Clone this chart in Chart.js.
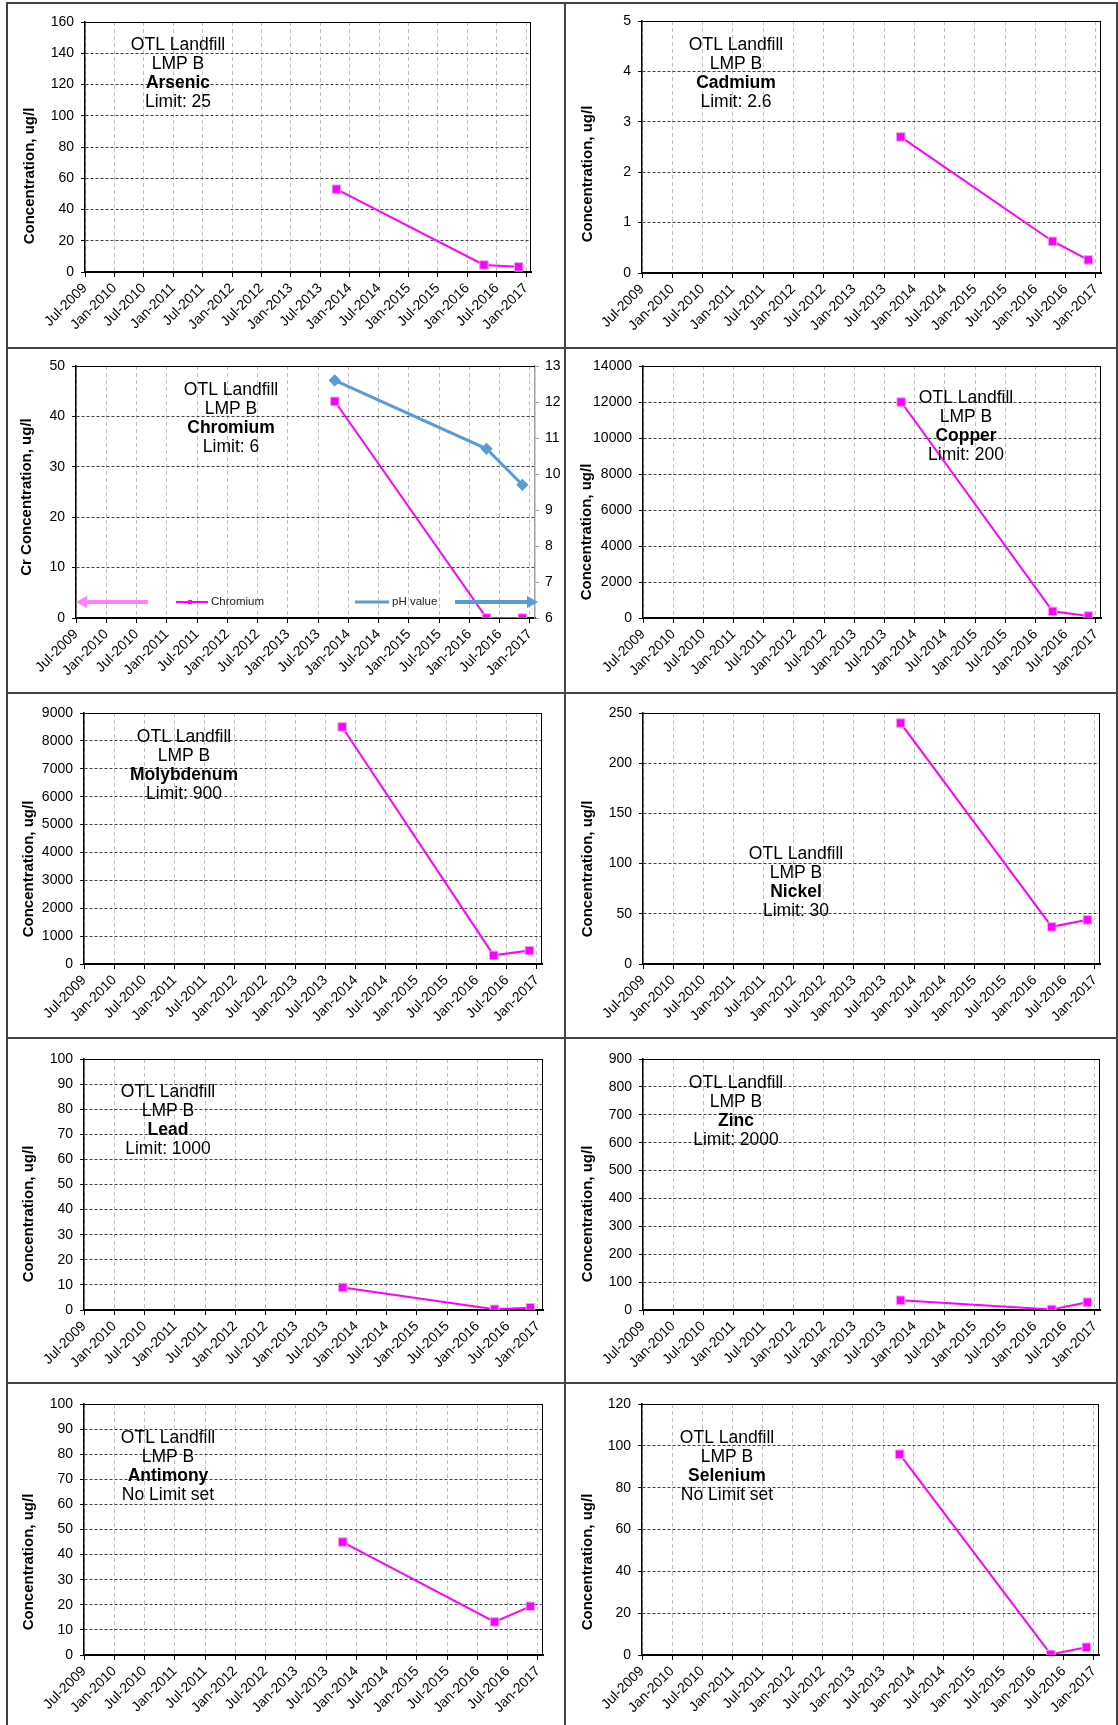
<!DOCTYPE html>
<html>
<head>
<meta charset="utf-8">
<title>OTL Landfill LMP B</title>
<script src="https://cdn.jsdelivr.net/npm/chart.js@4.4.1/dist/chart.umd.min.js"></script>
<style>
  body { margin: 0; background: #fff; width: 1118px; height: 1725px; position: relative; overflow: hidden; }
  .line { position: absolute; background: #444; }
  canvas { position: absolute; display: block; }
</style>
</head>
<body>
<script>
// x axis tick labels, one every 6 months from Jul-2009
const tickLabels = ['Jul-2009', 'Jan-2010', 'Jul-2010', 'Jan-2011', 'Jul-2011', 'Jan-2012', 'Jul-2012', 'Jan-2013',
  'Jul-2013', 'Jan-2014', 'Jul-2014', 'Jan-2015', 'Jul-2015', 'Jan-2016', 'Jul-2016', 'Jan-2017'];
const sampleDates = ['2013-10-10', '2016-04-13', '2016-11-16'];

// concentrations, ug/l
const arsenic = [53, 4.5, 3.3];
const cadmium = [2.7, 0.63, 0.26];
const chromium = [43, 0, 0];
const phValue = [12.6, 10.7, 9.7];
const copper = [12000, 370, 110];
const molybdenum = [8500, 310, 480];
const nickel = [240, 37, 44];
const lead = [9, 0.3, 0.9];
const zinc = [35, 2, 28];
const antimony = [45, 13.2, 19.4];
const selenium = [96, 0.3, 3.7];

const FONT = '"Liberation Sans", Arial, Helvetica, sans-serif';

function monthsSinceStart(d) {
  const [y, m, day] = d.split('-').map(Number);
  return (y - 2009) * 12 + (m - 7) + (day - 1) / 30.5;
}
const xVals = sampleDates.map(monthsSinceStart);
const pts = vals => vals.map((v, i) => ({ x: xVals[i], y: v }));

// area = [left, right, top, bottom] of plot inside the canvas
const panels = [
  { col: 0, row: 0, metal: 'Arsenic', limit: 'Limit: 25', values: arsenic, yMax: 160, yStep: 20,
    area: [77, 523, 18, 268], note: [170, 41], title: [22, 172] },
  { col: 1, row: 0, metal: 'Cadmium', limit: 'Limit: 2.6', values: cadmium, yMax: 5, yStep: 1,
    area: [76, 535, 17, 269], note: [170, 41], title: [22, 170] },
  { col: 0, row: 1, metal: 'Chromium', limit: 'Limit: 6', values: chromium, yMax: 50, yStep: 10,
    area: [68, 527, 17, 269], note: [223, 41], title: [19, 148], yTitle: 'Cr Concentration, ug/l', ph: phValue },
  { col: 1, row: 1, metal: 'Copper', limit: 'Limit: 200', values: copper, yMax: 14000, yStep: 2000,
    area: [77, 535, 17, 269], note: [400, 49], title: [21, 183] },
  { col: 0, row: 2, metal: 'Molybdenum', limit: 'Limit: 900', values: molybdenum, yMax: 9000, yStep: 1000,
    area: [76, 534, 19, 270], note: [176, 43], title: [21, 175] },
  { col: 1, row: 2, metal: 'Nickel', limit: 'Limit: 30', values: nickel, yMax: 250, yStep: 50,
    area: [77, 534, 19, 270], note: [230, 160], title: [22, 175] },
  { col: 0, row: 3, metal: 'Lead', limit: 'Limit: 1000', values: lead, yMax: 100, yStep: 10,
    area: [76, 535, 20, 271], note: [160, 53], title: [21, 175] },
  { col: 1, row: 3, metal: 'Zinc', limit: 'Limit: 2000', values: zinc, yMax: 900, yStep: 100,
    area: [77, 534, 20, 271], note: [170, 44], title: [22, 175] },
  { col: 0, row: 4, metal: 'Antimony', limit: 'No Limit set', values: antimony, yMax: 100, yStep: 10,
    area: [76, 535, 20, 271], note: [160, 54], title: [21, 178] },
  { col: 1, row: 4, metal: 'Selenium', limit: 'No Limit set', values: selenium, yMax: 120, yStep: 20,
    area: [76, 533, 20, 271], note: [161, 54], title: [22, 178] }
];

// table borders
[[6, 2, 2, 1723], [564, 2, 2, 1723], [1116, 2, 2, 1723]].forEach(([x, y, w, h]) => addLine(x, y, w, h));
[2, 347, 692, 1037, 1382].forEach(y => addLine(6, y, 1112, 2));
function addLine(x, y, w, h) {
  const d = document.createElement('div');
  d.className = 'line';
  d.style.cssText = `left:${x}px;top:${y}px;width:${w}px;height:${h}px`;
  document.body.appendChild(d);
}

function drawArrow(ctx, x1, x2, y, color, pointLeft) {
  const head = 11, half = 6;
  ctx.strokeStyle = color;
  ctx.fillStyle = color;
  ctx.lineWidth = 4;
  ctx.beginPath();
  if (pointLeft) { ctx.moveTo(x1 + head, y); ctx.lineTo(x2, y); }
  else { ctx.moveTo(x1, y); ctx.lineTo(x2 - head, y); }
  ctx.stroke();
  const tip = pointLeft ? x1 : x2, base = pointLeft ? x1 + head : x2 - head;
  ctx.beginPath();
  ctx.moveTo(tip, y);
  ctx.lineTo(base, y - half);
  ctx.lineTo(base, y + half);
  ctx.closePath();
  ctx.fill();
}

const panelPlugin = {
  id: 'panelText',
  beforeDatasetsDraw(chart, args, o) {
    const { ctx, chartArea: a } = chart;
    ctx.save();
    ctx.lineWidth = 1;
    ctx.strokeStyle = '#000';
    ctx.beginPath();
    ctx.moveTo(a.left, a.top + 0.5);
    ctx.lineTo(a.right, a.top + 0.5);
    if (!o.ph) {
      ctx.moveTo(a.right - 0.5, a.top);
      ctx.lineTo(a.right - 0.5, a.bottom);
    }
    ctx.stroke();
    ctx.restore();
  },
  afterDraw(chart, args, o) {
    const ctx = chart.ctx;
    ctx.save();
    ctx.fillStyle = '#000';
    // y axis title
    ctx.save();
    ctx.translate(o.title[0], o.title[1]);
    ctx.rotate(-Math.PI / 2);
    ctx.font = 'bold 15px ' + FONT;
    ctx.textAlign = 'center';
    ctx.textBaseline = 'middle';
    ctx.fillText(o.yTitle, 0, 0);
    ctx.restore();
    // label block
    ctx.textAlign = 'center';
    ctx.textBaseline = 'middle';
    o.lines.forEach((t, i) => {
      ctx.font = (i === 2 ? 'bold ' : '') + '17.5px ' + FONT;
      ctx.fillText(t, o.note[0], o.note[1] + i * 19);
    });
    // in-plot legend of the chromium / pH chart
    if (o.ph) {
      const y = 253;
      drawArrow(ctx, 68, 140, y, '#FF80FF', true);
      ctx.strokeStyle = '#FF00FF';
      ctx.lineWidth = 2;
      ctx.beginPath(); ctx.moveTo(168, y); ctx.lineTo(200, y); ctx.stroke();
      ctx.fillStyle = '#FF00FF';
      ctx.fillRect(180, y - 2, 4, 4);
      ctx.strokeStyle = '#5B9BD5';
      ctx.lineWidth = 3;
      ctx.beginPath(); ctx.moveTo(347, y); ctx.lineTo(381, y); ctx.stroke();
      drawArrow(ctx, 447, 530, y, '#5B9BD5', false);
      ctx.fillStyle = '#222';
      ctx.font = '11.5px ' + FONT;
      ctx.textAlign = 'left';
      ctx.fillText('Chromium', 203, y);
      ctx.fillText('pH value', 384, y);
    }
    ctx.restore();
  }
};

function buildChart(p) {
  const w = p.col === 0 ? 556 : 550, h = 343;
  const canvas = document.createElement('canvas');
  canvas.width = w;
  canvas.height = h;
  canvas.style.cssText = `left:${p.col ? 566 : 8}px;top:${4 + p.row * 345}px;width:${w}px;height:${h}px`;
  document.body.appendChild(canvas);
  const [l, r, t, b] = p.area;
  const rightW = p.ph ? w - r : 0;
  const tickFont = { family: FONT, size: 14 };

  const datasets = [{
    label: p.metal,
    data: pts(p.values),
    yAxisID: 'y',
    borderColor: '#FF00FF',
    borderWidth: 2,
    backgroundColor: '#FF00FF',
    pointStyle: 'rect',
    pointRadius: 6,
    pointBackgroundColor: '#FF00FF',
    pointBorderColor: '#F0A8F0',
    pointBorderWidth: 1,
    tension: 0
  }];
  if (p.ph) {
    datasets.unshift({
      label: 'pH value',
      data: pts(p.ph),
      yAxisID: 'y1',
      borderColor: '#5B9BD5',
      borderWidth: 3,
      backgroundColor: '#5B9BD5',
      pointStyle: 'rectRot',
      pointRadius: 4,
      pointBackgroundColor: '#5B9BD5',
      pointBorderColor: '#5B9BD5',
      tension: 0
    });
  }

  const scales = {
    x: {
      type: 'linear', min: 0, max: 91,
      afterFit: s => { s.height = h - b; },
      ticks: {
        stepSize: 6, includeBounds: false, autoSkip: false, maxRotation: 45, minRotation: 45,
        padding: 3, color: '#000', font: tickFont,
        callback: v => tickLabels[Math.round(v / 6)]
      },
      grid: { color: '#BFBFBF', lineWidth: 1, tickLength: 5, tickColor: '#000', z: -1 },
      border: { color: '#000', width: 2, dash: [4, 3] }
    },
    y: {
      min: 0, max: p.yMax,
      afterFit: s => { s.width = l; },
      ticks: { stepSize: p.yStep, padding: 7, color: '#000', font: tickFont, callback: v => String(v) },
      grid: { color: '#404040', lineWidth: 1, tickLength: 4, tickColor: '#000', z: -1 },
      border: { color: '#000', width: 1.5, dash: [3, 2] }
    }
  };
  if (p.ph) {
    scales.y1 = {
      position: 'right', min: 6, max: 13,
      afterFit: s => { s.width = rightW; },
      ticks: { stepSize: 1, padding: 6, color: '#000', font: tickFont, callback: v => String(v) },
      grid: { drawOnChartArea: false, tickLength: 4, tickColor: '#A0A0A0' },
      border: { color: '#A0A0A0', width: 1.5 }
    };
  }

  new Chart(canvas, {
    type: 'line',
    data: { datasets },
    options: {
      responsive: false,
      animation: false,
      layout: { padding: { left: 0, right: w - r - rightW, top: t, bottom: 0 } },
      plugins: {
        legend: { display: false },
        tooltip: { enabled: false },
        panelText: {
          lines: ['OTL Landfill', 'LMP B', p.metal, p.limit],
          note: p.note,
          title: p.title,
          yTitle: p.yTitle || 'Concentration, ug/l',
          ph: !!p.ph
        }
      },
      scales
    },
    plugins: [panelPlugin]
  });
}

panels.forEach(buildChart);
</script>
</body>
</html>
